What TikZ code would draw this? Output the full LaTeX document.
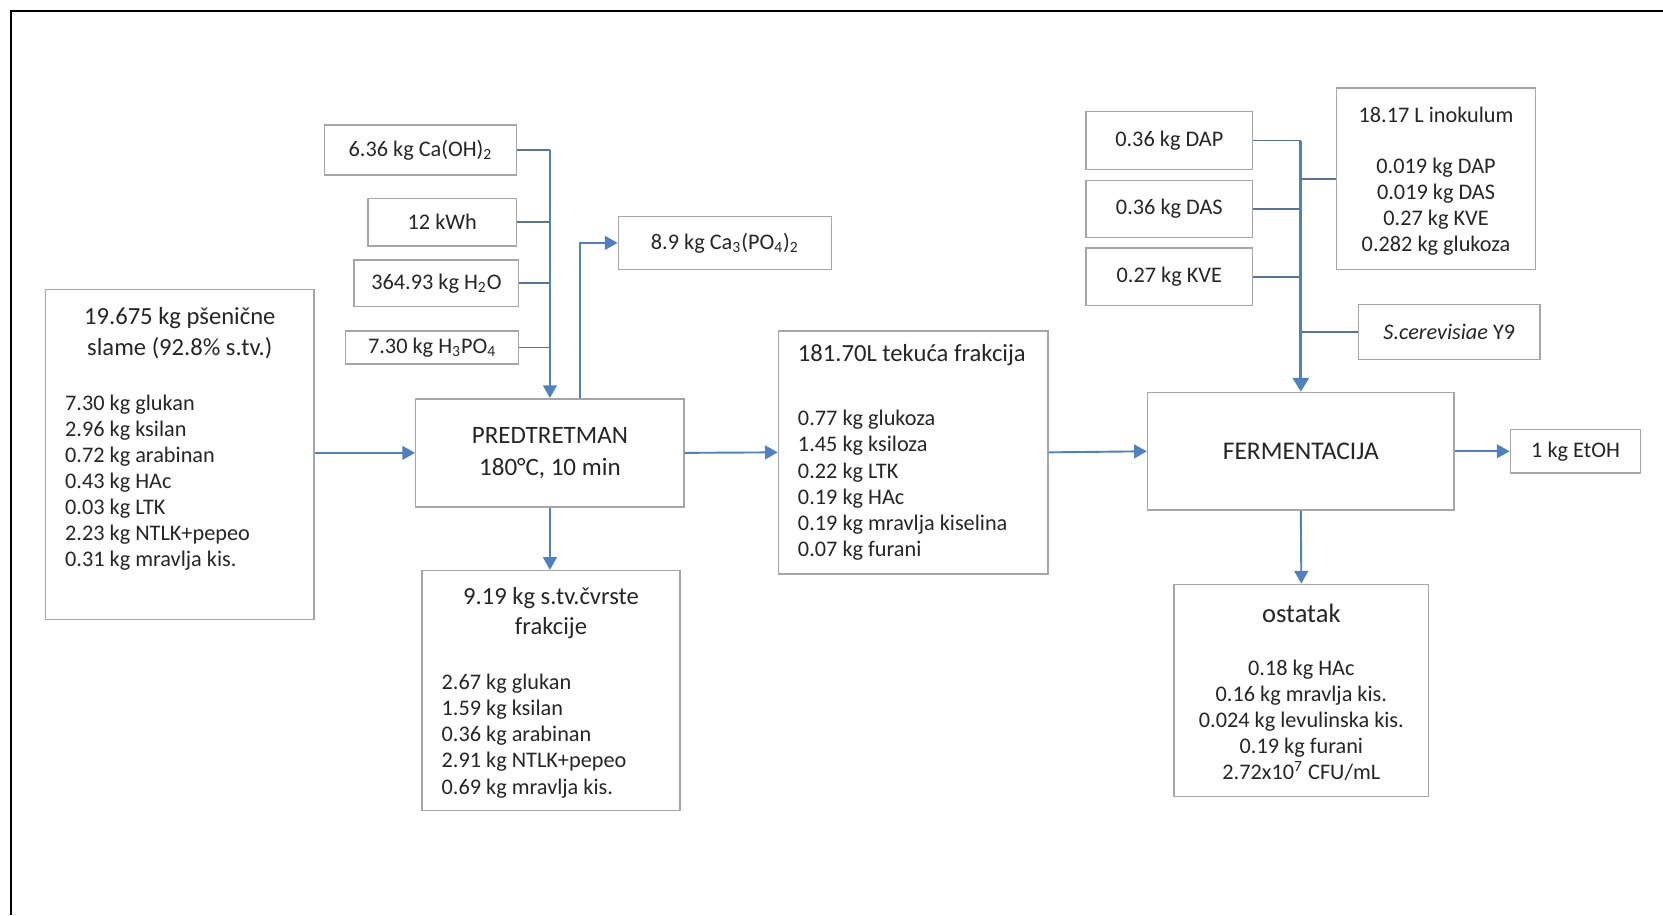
\documentclass[tikz,border=0pt]{standalone}
\usepackage{fontspec}
\setmainfont{Carlito}
\usetikzlibrary{arrows.meta,calc}
\definecolor{boxgray}{HTML}{A6A6A6}
\definecolor{arrblue}{HTML}{4F81BD}
\definecolor{linblue}{HTML}{5A7594}
\definecolor{txt}{HTML}{262626}
\tikzset{
  box/.style={draw=boxgray, line width=0.7pt, fill=white, inner sep=0pt, text=txt,
    font=\fontsize{10.5}{12.3}\selectfont, align=center},
  titletxt/.style={inner sep=0pt, text=txt, font=\fontsize{11.6}{14.5}\selectfont},
  itemtxt/.style={inner sep=0pt, text=txt, font=\fontsize{10.5}{12.3}\selectfont},
  arr/.style={draw=arrblue, line width=0.9pt, -{Triangle[width=6.5pt,length=6pt]}},
  feed/.style={draw=linblue, line width=0.8pt},
  bigarr/.style={draw=arrblue, line width=1.5pt, -{Triangle[width=7.5pt,length=6.5pt]}},
}
\begin{document}
\begin{tikzpicture}[x=0.5pt,y=-0.5pt]
\useasboundingbox (0,0) rectangle (1568,863);
\fill[white] (0,0) rectangle (1568,863);
\draw[black, line width=1pt] (10,863) -- (10,10) -- (1568,10);

% inputs to pretreatment
\node[box, minimum width=90.5pt, minimum height=23.5pt] (caoh) at (396.5,141.5) {6.36 kg Ca(OH)\textsubscript{2}};
\node[box, minimum width=70pt, minimum height=22.5pt] (kwh) at (417,209.5) {12 kWh};
\node[box, minimum width=77.5pt, minimum height=22pt] (hoh) at (411.5,267) {364.93 kg H\textsubscript{2}O};
\node[box, minimum width=81.5pt, minimum height=15.5pt] (hpo) at (407.5,327.5) {7.30 kg H\textsubscript{3}PO\textsubscript{4}};
\node[box, minimum width=100.5pt, minimum height=25pt] (cap) at (683.5,229) {8.9 kg Ca\textsubscript{3}(PO\textsubscript{4})\textsubscript{2}};

% straw
\node[box, minimum width=126.5pt, minimum height=155.5pt] (straw) at (169.5,428.5) {};
\node[titletxt, align=center] (strawT) at (169.5,314) {19.675 kg pšenične\\slame (92.8\% s.tv.)};
\node[itemtxt, align=left, anchor=west] (strawI) at (61,455) {7.30 kg glukan\\2.96 kg ksilan\\0.72 kg arabinan\\0.43 kg HAc\\0.03 kg LTK\\2.23 kg NTLK+pepeo\\0.31 kg mravlja kis.};

% pretreatment
\node[box, minimum width=126.5pt, minimum height=51pt, font=\fontsize{11.8}{15}\selectfont] (pred) at (518.5,427) {PREDTRETMAN\\180°C, 10 min};

% solid fraction
\node[box, minimum width=121.5pt, minimum height=113pt] (solid) at (519.5,651) {};
\node[titletxt, align=center, font=\fontsize{11.6}{14}\selectfont] (solidT) at (519.5,578) {9.19 kg s.tv.čvrste\\frakcije};
\node[itemtxt, align=left, anchor=west] (solidI) at (416,694) {2.67 kg glukan\\1.59 kg ksilan\\0.36 kg arabinan\\2.91 kg NTLK+pepeo\\0.69 kg mravlja kis.};

% liquid fraction
\node[box, minimum width=127pt, minimum height=114.5pt] (liquid) at (861,426.5) {};
\node[titletxt, anchor=west] (liquidT) at (752,335) {181.70L tekuća frakcija};
\node[itemtxt, align=left, anchor=west] (liquidI) at (752,457.5) {0.77 kg glukoza\\1.45 kg ksiloza\\0.22 kg LTK\\0.19 kg HAc\\0.19 kg mravlja kiselina\\0.07 kg furani};

% fermentation
\node[box, minimum width=144.5pt, minimum height=55.5pt, font=\fontsize{12}{15}\selectfont] (ferm) at (1226.5,425.5) {FERMENTACIJA};
\node[box, minimum width=78.5pt, minimum height=27.5pt] (dap) at (1102.5,132.5) {0.36 kg DAP};
\node[box, minimum width=78.5pt, minimum height=27pt] (das) at (1102.5,197) {0.36 kg DAS};
\node[box, minimum width=78.5pt, minimum height=27pt] (kve) at (1102.5,261) {0.27 kg KVE};
\node[box, minimum width=94pt, minimum height=85.5pt] (inok) at (1354,168.5) {};
\node[itemtxt] (inokT) at (1354,108) {18.17 L inokulum};
\node[itemtxt, align=center] (inokI) at (1354,195) {0.019 kg DAP\\0.019 kg DAS\\0.27 kg KVE\\0.282 kg glukoza};
\node[box, minimum width=85.5pt, minimum height=26pt] (scer) at (1366.5,313) {\textit{S.cerevisiae} Y9};
\node[box, minimum width=61.5pt, minimum height=20.5pt] (etoh) at (1485.5,425.5) {1 kg EtOH};
\node[box, minimum width=120pt, minimum height=100pt] (ost) at (1227,651) {};
\node[titletxt, font=\fontsize{12.5}{15}\selectfont] (ostT) at (1227,578) {ostatak};
\node[itemtxt, align=center] (ostI) at (1227,679) {0.18 kg HAc\\0.16 kg mravlja kis.\\0.024 kg levulinska kis.\\0.19 kg furani\\2.72x10\textsuperscript{7} CFU/mL};

% connectors: pretreatment
\draw[feed] (kwh.east) -- (kwh.east -| pred.north);
\draw[feed] (hoh.east) -- (hoh.east -| pred.north);
\draw[feed] (hpo.east) -- (hpo.east -| pred.north);
\draw[feed] (caoh.east) -- (caoh.east -| pred.north);
\draw[arr] (caoh.east -| pred.north) -- (pred.north);
\draw[arr] ([xshift=14.25pt]pred.north) |- (cap.west);
\draw[arr] (straw.east |- pred.west) -- (pred.west);
\draw[arr] (pred.south) -- (pred.south |- solid.north);
\draw[arr] (pred.east) -- (liquid.west);
\draw[arr] (liquid.east) -- (ferm.west);

% connectors: fermentation
\draw[feed] (dap.east) -- (dap.east -| ferm.north);
\draw[feed] (das.east) -- (das.east -| ferm.north);
\draw[feed] (kve.east) -- (kve.east -| ferm.north);
\draw[feed] (inok.west) -- (inok.west -| ferm.north);
\draw[feed] (scer.west) -- (scer.west -| ferm.north);
\draw[bigarr] (dap.east -| ferm.north) -- (ferm.north);
\draw[arr] (ferm.east) -- (etoh.west);
\draw[arr] (ferm.south) -- (ost.north);
\end{tikzpicture}
\end{document}
